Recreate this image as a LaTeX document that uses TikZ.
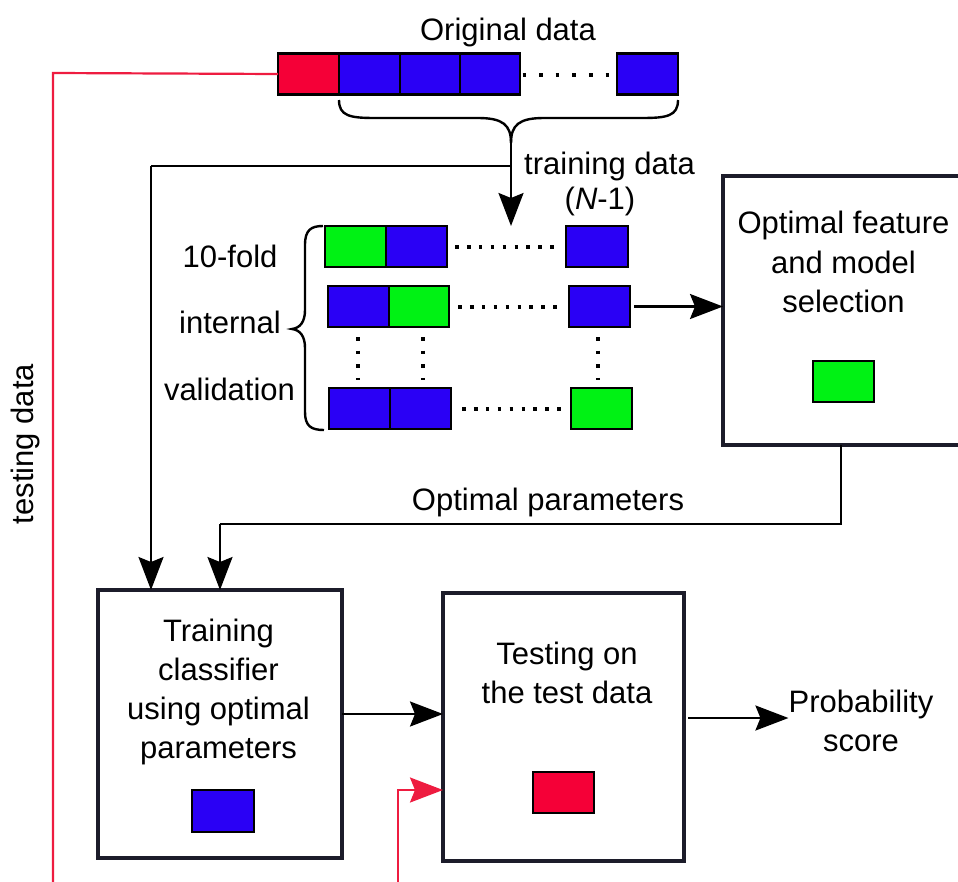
\documentclass[tikz,border=0pt]{standalone}
\usepackage{fontspec}
\setmainfont{Liberation Sans}
\usetikzlibrary{arrows.meta}
\definecolor{cred}{RGB}{245,0,55}
\definecolor{cblue}{RGB}{42,0,245}
\definecolor{cgreen}{RGB}{0,242,20}
\definecolor{cline}{RGB}{238,28,64}
\definecolor{cframe}{RGB}{28,28,42}
\begin{document}
\begin{tikzpicture}[x=1pt,y=-1pt,
  every node/.style={font=\fontsize{31}{39.3}\selectfont},
  cell/.style={draw=black,line width=2.6pt,minimum width=61pt,minimum height=41pt,inner sep=0pt,outer sep=0pt},
  bigbox/.style={draw=cframe,line width=3.2pt,inner sep=0pt,outer sep=0pt},
  txt/.style={inner sep=0pt,align=center},
  tip/.style={-{Stealth[length=33pt,width=25pt,inset=5pt]}},
  conn/.style={line width=2.2pt,draw=black,tip},
  plain/.style={line width=2.2pt,draw=black},
  redconn/.style={line width=2.2pt,draw=cline},
  hdots/.style={line width=3.6pt,draw=black,dash pattern=on 3.6pt off 8.3pt},
  tdots/.style={line width=3.6pt,draw=black,dash pattern=on 3.6pt off 13pt},
  vdots/.style={line width=3.6pt,draw=black,dash pattern=on 3.6pt off 10pt},
  brace/.style={line width=2.4pt,draw=black}
]
\clip (0,0) rectangle (958,881);

% ---------- original data ----------
\node[txt] (orig) at (508,32) {Original data};
\node[cell,fill=cred]  (o1) at (308.5,74) {};
\node[cell,fill=cblue] (o2) at (369.5,74) {};
\node[cell,fill=cblue,minimum width=60pt] (o3) at (430,74) {};
\node[cell,fill=cblue,minimum width=60pt] (o4) at (490,74) {};
\node[cell,fill=cblue] (o5) at (647.5,74) {};
\draw[tdots] (522.5,75) -- (612,75);

% brace under the training part
\coordinate (btip) at (511,143);
\draw[brace] (339,100) .. controls (339,116) and (350,118) .. (375,118) -- (478,118)
  .. controls (503,118) and (511,125) .. (btip);
\draw[brace] (678,100) .. controls (678,116) and (667,118) .. (642,118) -- (544,118)
  .. controls (519,118) and (511,125) .. (btip);
\coordinate (jn) at (511,166);
\coordinate (aend) at (511,226);
\draw[conn] (btip) -- (aend);
\node[txt] (trd) at (609.5,166) {training data};
\node[txt] (nm1) at (600,201) {(\textit{N}-1)};

% ---------- 10-fold internal validation ----------
\node[cell,fill=cgreen] (a1) at (355.5,246.5) {};
\node[cell,fill=cblue]  (a2) at (416.5,246.5) {};
\node[cell,fill=cblue,minimum width=62pt] (a3) at (597,246.5) {};
\draw[hdots] (455,247) -- (556,247);

\node[cell,fill=cblue]  (b1) at (358.5,306.5) {};
\node[cell,fill=cgreen,minimum width=60pt] (b2) at (419,306.5) {};
\node[cell,fill=cblue]  (b3) at (599.5,306.5) {};
\draw[hdots] (458,307) -- (559,307);

\node[cell,fill=cblue]  (c1) at (359.5,408.5) {};
\node[cell,fill=cblue]  (c2) at (420.5,408.5) {};
\node[cell,fill=cgreen] (c3) at (601.5,408.5) {};
\draw[hdots] (462,409) -- (563,409);

\draw[vdots] (358,337) -- (358,380);
\draw[vdots] (423,337) -- (423,380);
\draw[vdots] (598,337) -- (598,380);

\draw[brace] (323,226) .. controls (311,226) and (305,230) .. (305,245) -- (305,310)
  .. controls (305,322) and (300,328) .. (292,329)
  .. controls (300,330) and (305,336) .. (305,348) -- (305,412)
  .. controls (305,426) and (311,430) .. (324,430);

\node[txt] (f1) at (230,256) {10-fold};
\node[txt] (f2) at (230,322) {internal};
\node[txt] (f3) at (229.5,389) {validation};

% ---------- optimal feature and model selection ----------
\node[bigbox,minimum width=250pt,minimum height=269pt] (opt) at (848,310.5) {};
\node[txt] (optt) at (843.5,262) {Optimal feature\\and model\\selection};
\node[cell,fill=cgreen] (og) at (843.5,381.5) {};
\draw[conn] ([xshift=4pt]b3.east) -- (b3.east -| opt.west);

% ---------- optimal parameters ----------
\coordinate (p1) at (841,524);
\coordinate (p2) at (220,524);
\node[txt] (optp) at (548,502) {Optimal parameters};

% ---------- training classifier ----------
\node[bigbox,minimum width=244pt,minimum height=268pt] (train) at (220,724) {};
\node[txt] (traint) at (218.5,692) {Training\\classifier\\using optimal\\parameters};
\node[cell,fill=cblue,minimum width=62pt,minimum height=42pt] (tb) at (223,811) {};

\draw[plain] (p1 |- opt.south) -- (p1) -- (p2);
\draw[conn] (p2) -- (p2 |- train.north);

\coordinate (tl) at (151,166);
\draw[plain] (jn) -- (tl);
\draw[conn] (tl) -- (tl |- train.north);

% ---------- testing ----------
\node[bigbox,minimum width=241pt,minimum height=268pt] (test) at (563.5,727) {};
\node[txt] (testt) at (567,673) {Testing on\\the test data};
\node[cell,fill=cred] (tr) at (563.5,792.5) {};

\coordinate (y1) at (0,714);
\draw[conn] (train.east |- y1) -- (test.west |- y1);

\node[txt] (prob) at (861,721) {Probability\\score};
\coordinate (y2) at (0,718);
\draw[conn] ([xshift=4pt]test.east |- y2) -- (prob.west |- y2);

% ---------- testing data (red) ----------
\coordinate (r1) at (53,73);
\coordinate (r2) at (53,890);
\draw[redconn] (o1.west) -- (r1) -- (r2);
\node[txt,rotate=90] (tdl) at (25.5,444) {testing data};

\coordinate (s1) at (398,890);
\coordinate (s2) at (398,790);
\draw[redconn,tip] (s1) -- (s2) -- (s2 -| test.west);
\end{tikzpicture}
\end{document}
